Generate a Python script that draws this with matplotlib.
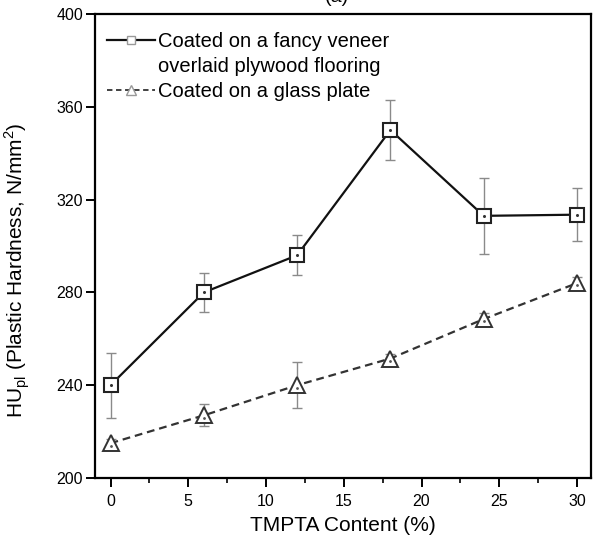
import matplotlib
matplotlib.use("Agg")
import matplotlib.pyplot as plt
from matplotlib.lines import Line2D
from matplotlib.ticker import MultipleLocator

plt.rcParams['font.family'] = ['Liberation Sans', 'DejaVu Sans']
plt.rcParams['mathtext.fontset'] = 'custom'
plt.rcParams['mathtext.rm'] = 'Liberation Sans'

# TMPTA content (%)
tmpta = [0, 6, 12, 18, 24, 30]

# Plastic hardness, coated on fancy veneer overlaid plywood flooring
veneer_hu = [240, 280, 296, 350, 313, 313.5]
veneer_err = [14, 8.5, 8.7, 13, 16.5, 11.5]

# Plastic hardness, coated on a glass plate
glass_hu = [215, 227, 240, 251.5, 268.5, 284]
glass_err = [2, 4.7, 10, 2, 2.5, 2.5]

label_veneer = ["Coated on a fancy veneer", "overlaid plywood flooring"]
label_glass = "Coated on a glass plate"

fig = plt.figure(figsize=(6.01, 5.46), dpi=100)
ax = fig.add_axes([95 / 601, 1 - 478 / 546, (591 - 95) / 601, (478 - 14) / 546])

err_kw = dict(fmt='none', ecolor='#8a8a8a', elinewidth=1.0, capsize=3.5, capthick=1.0, zorder=2)
ax.errorbar(tmpta, veneer_hu, yerr=veneer_err, **err_kw)
ax.errorbar(tmpta, glass_hu, yerr=glass_err, **err_kw)

ax.plot(tmpta, veneer_hu, color='#111111', lw=1.6, marker='s', ms=9.5,
        mfc='white', mec='#222222', mew=1.5, zorder=3)
ax.plot(tmpta, glass_hu, color='#333333', lw=1.6, ls=(0, (3.5, 2.2)), marker='^', ms=11,
        mfc='white', mec='#333333', mew=1.4, zorder=3)
# small centre dots inside the markers
ax.plot(tmpta, veneer_hu, ls='none', marker='o', ms=1.2, color='#333333', zorder=4)
ax.plot(tmpta, [g - 1 for g in glass_hu], ls='none', marker='o', ms=1.0, color='#555555', zorder=4)

# legend handles; the continuation line of the first label gets a blank handle
h1 = Line2D([], [], color='#111111', lw=1.6, marker='s', ms=6, mfc='white', mec='#999999', mew=1.0)
h_blank = Line2D([], [], ls='none', marker='none')
h2 = Line2D([], [], color='#333333', lw=1.3, ls=(0, (3, 2)), marker='^', ms=7, mfc='white', mec='#999999', mew=1.0)
leg = ax.legend([h1, h_blank, h2], [label_veneer[0], label_veneer[1], label_glass],
                loc='upper left', frameon=False,
                fontsize=14.5, handlelength=2.4, handletextpad=0.15, labelspacing=0.3,
                borderpad=0, bbox_to_anchor=(0.024, 0.962), borderaxespad=0)

ax.set_xlim(-1.0, 30.9)
ax.set_ylim(200, 400)
ax.xaxis.set_major_locator(MultipleLocator(5))
ax.xaxis.set_minor_locator(MultipleLocator(2.5))
ax.yaxis.set_major_locator(MultipleLocator(40))

for s in ax.spines.values():
    s.set_linewidth(1.6)
ax.tick_params(axis='both', which='major', direction='out', length=6.5, width=1.4, labelsize=11.5)
ax.tick_params(axis='x', which='major', pad=5)
ax.tick_params(axis='y', which='major', pad=2)
ax.tick_params(axis='x', which='minor', direction='out', length=3.5, width=1.2)

ax.set_xlabel("TMPTA Content (%)", fontsize=15, labelpad=5)
ax.set_ylabel(r"HU$_{\mathregular{pl}}$ (Plastic Hardness, N/mm$^{\mathregular{2}}$)", fontsize=15)
ax.yaxis.set_label_coords(-0.128, 0.448)

fig.text(337 / 601, 1 + 2 / 546, "(a)", ha='center', va='center', fontsize=14)

fig.savefig("out.png", dpi=100)
